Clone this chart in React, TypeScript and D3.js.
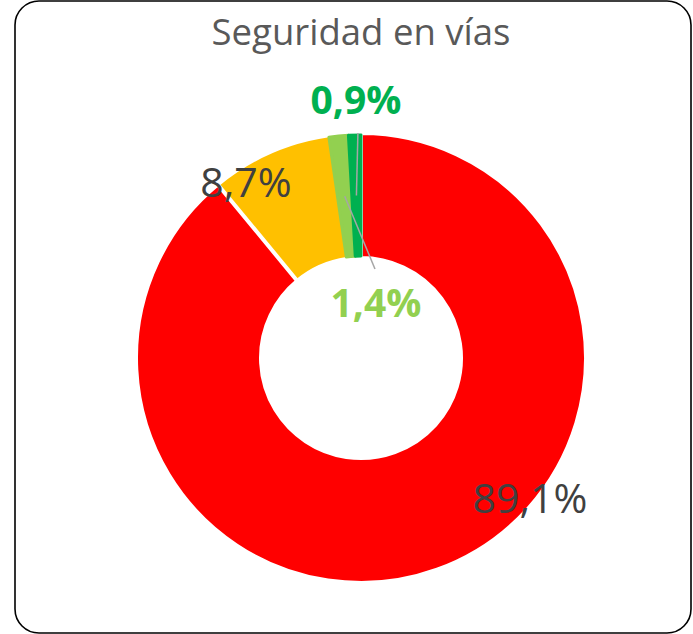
import React from "react";
import * as d3 from "d3";

const categories = ["Rojo", "Amarillo", "Verde claro", "Verde"];
const values = [89.1, 8.7, 1.4, 0.9];
const labels = ["89,1%", "8,7%", "1,4%", "0,9%"];
const colors = ["#FF0000", "#FFC000", "#92D050", "#00B050"];
const title = "Seguridad en vías";

const W = 693;
const H = 634;
const cx = 361;
const cy = 358;
const outerR = 223;
const innerR = 102;

export default function App() {
  const pie = d3
    .pie<number>()
    .sort(null)
    .value((d) => d)
    .startAngle(0)
    .endAngle(2 * Math.PI);
  const arcsData = pie(values);
  const arc = d3.arc<d3.PieArcDatum<number>>().innerRadius(innerR).outerRadius(outerR);
  const redArc = d3.arc<d3.PieArcDatum<number>>().innerRadius(innerR - 2).outerRadius(outerR + 2);

  const pt = (a: number, r: number) => [cx + r * Math.sin(a), cy - r * Math.cos(a)];
  const mid = (d: d3.PieArcDatum<number>) => (d.startAngle + d.endAngle) / 2;
  const midR = (innerR + outerR) / 2;

  // drawing order: yellow, red (white outline), light green, dark green
  const order = [1, 0, 2, 3];

  const dg = arcsData[3];
  const lg = arcsData[2];
  const dgEnd = pt(mid(dg), midR);
  const lgEnd = pt(mid(lg), midR);

  const font = "'Open Sans', sans-serif";

  return (
    <svg
      width={W}
      height={H}
      style={{ position: "absolute", left: 0, top: 0, background: "#fff" }}
    >
      <rect x={15} y={1} width={676} height={632} rx={24} ry={24} fill="#fff" stroke="#000" strokeWidth={1.6} />
      <text x={361} y={45} textAnchor="middle" fontFamily={font} fontSize={36.5} fill="#595959">
        {title}
      </text>
      <g transform={`translate(${cx},${cy})`}>
        {order.map((i) => {
          const d = arcsData[i];
          if (i === 0) {
            return (
              <path key={categories[i]} d={redArc(d) || ""} fill={colors[i]} stroke="#fff" strokeWidth={4} strokeLinejoin="round" />
            );
          }
          const isGreen = i >= 2;
          return (
            <path
              key={categories[i]}
              d={arc(d) || ""}
              fill={colors[i]}
              stroke={isGreen ? colors[i] : "none"}
              strokeWidth={isGreen ? 3 : 0}
              strokeLinejoin="round"
            />
          );
        })}
      </g>
      <line x1={dgEnd[0] + 1.5} y1={133} x2={dgEnd[0]} y2={dgEnd[1]} stroke="#A6A6A6" strokeWidth={1.5} />
      <line x1={375} y1={269} x2={lgEnd[0]} y2={lgEnd[1]} stroke="#A6A6A6" strokeWidth={1.5} />
      <text x={530} y={513} textAnchor="middle" fontFamily={font} fontSize={41} fill="#404040">
        {labels[0]}
      </text>
      <text x={246} y={197} textAnchor="middle" fontFamily={font} fontSize={41} fill="#404040">
        {labels[1]}
      </text>
      <text x={376} y={317} textAnchor="middle" fontFamily={font} fontSize={39} fontWeight="bold" fill={colors[2]}>
        {labels[2]}
      </text>
      <text x={356} y={114} textAnchor="middle" fontFamily={font} fontSize={39} fontWeight="bold" fill={colors[3]}>
        {labels[3]}
      </text>
    </svg>
  );
}
